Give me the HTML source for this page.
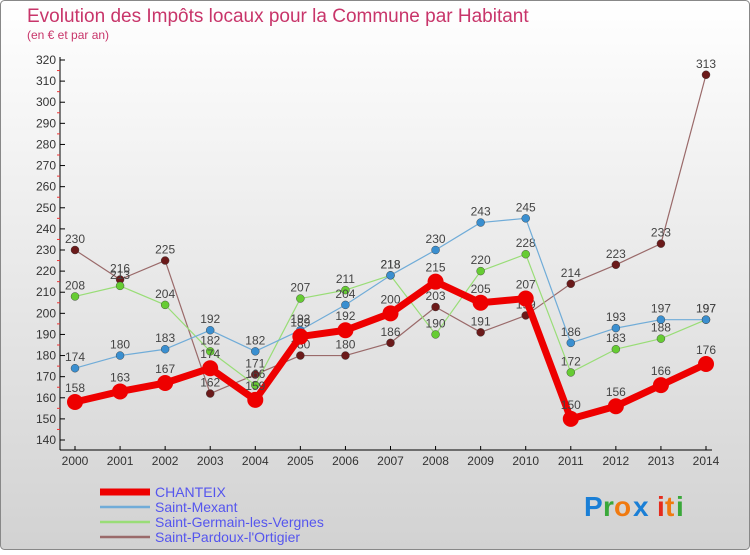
<!DOCTYPE html>
<html><head><meta charset="utf-8"><style>
body{margin:0;width:750px;height:550px;overflow:hidden;font-family:"Liberation Sans",sans-serif}
svg text{font-family:"Liberation Sans",sans-serif}
</style></head><body>
<svg id="c" width="750" height="550" xmlns="http://www.w3.org/2000/svg">
<defs><linearGradient id="bg" x1="0" y1="0" x2="0" y2="1"><stop offset="0" stop-color="#ffffff"/><stop offset="1" stop-color="#d2d2d2"/></linearGradient></defs>
<rect x="0.5" y="0.5" width="749" height="549" rx="4" fill="url(#bg)" stroke="#888"/>
<text x="27" y="22" font-size="19" fill="#c8356a">Evolution des Impôts locaux pour la Commune par Habitant</text>
<text x="27" y="39" font-size="12" fill="#c8356a">(en € et par an)</text>
<g id="axes"></g><g id="series"></g>
<g id="legend"></g>
<g font-size="28" font-weight="bold">
<text x="584" y="516" fill="#1a7fd6">P</text><text x="603" y="516" fill="#3aa83a">r</text><text x="614" y="516" fill="#f07a10">o</text><text x="633" y="516" fill="#1a7fd6">x</text><text x="657" y="516" fill="#e52b1c">i</text><text x="665" y="516" fill="#f07a10">t</text><text x="676" y="516" fill="#3aa83a">i</text></g>
</svg>
<script>
const years=[2000,2001,2002,2003,2004,2005,2006,2007,2008,2009,2010,2011,2012,2013,2014];
const chanteix=[158,163,167,174,159,189,192,200,215,205,207,150,156,166,176];
const mexant=[174,180,183,192,182,192,204,218,230,243,245,186,193,197,197];
const germain=[208,213,204,182,166,207,211,218,190,220,228,172,183,188,197];
const pardoux=[230,216,225,162,171,180,180,186,203,191,199,214,223,233,313];
const yTicks=[140,150,160,170,180,190,200,210,220,230,240,250,260,270,280,290,300,310,320];
const names=["CHANTEIX","Saint-Mexant","Saint-Germain-les-Vergnes","Saint-Pardoux-l'Ortigier"];
const NS="http://www.w3.org/2000/svg";
const X=i=>75+i*(706-75)/(years.length-1);
const Y=v=>440-(v-140)*(380/180);
function mk(t,a,p){const e=document.createElementNS(NS,t);for(const k in a)e.setAttribute(k,a[k]);p.appendChild(e);return e;}
const ax=document.getElementById('axes');
const yl=mk('line',{x1:60,y1:57,x2:60,y2:450,stroke:'#000'},ax);


const xl=mk('line',{x1:60,y1:450,x2:712,y2:450,stroke:'#000'},ax);


yTicks.forEach((v,k)=>{
 mk('line',{x1:60,y1:Y(v),x2:65,y2:Y(v),stroke:'#000'},ax);
 if(k<yTicks.length-1) mk('line',{x1:57,y1:Y(v+5),x2:60,y2:Y(v+5),stroke:'#e33'},ax);
 const t=mk('text',{x:56,y:Y(v)+4,'font-size':12,'text-anchor':'end',fill:'#333'},ax);t.textContent=v;
 
 
});
years.forEach((y,i)=>{
 mk('line',{x1:X(i),y1:446,x2:X(i),y2:450,stroke:'#000'},ax);
 const t=mk('text',{x:X(i),y:465,'font-size':12,'text-anchor':'middle',fill:'#333'},ax);t.textContent=y;
 
 
});
const sg=document.getElementById('series');
const defs=[[pardoux,'#6b1a1a','#9a6a6a',1.2,4,'series-saint-pardoux'],[germain,'#66cc33','#99dd77',1.2,4,'series-saint-germain'],[mexant,'#3a8fd0','#70acd8',1.2,4,'series-saint-mexant'],[chanteix,'#ee0000','#ee0000',7,8,'series-chanteix']];
defs.forEach(([d,dc,lc,w,r,n])=>{
 const g=mk('g',{},sg);
 
 
 mk('polyline',{points:d.map((v,i)=>X(i)+','+Y(v)).join(' '),fill:'none',stroke:lc,'stroke-width':w,'stroke-linejoin':'round'},g);
 d.forEach((v,i)=>{
  const c=mk('circle',{cx:X(i),cy:Y(v),r:r,fill:dc,stroke:w>2?'none':'#333','stroke-width':0.4},g);
  
  
  const t=mk('text',{x:X(i),y:Y(v)-(w>2?10:7),'font-size':12,'text-anchor':'middle',fill:'#444'},g);t.textContent=v;
 });
});
const lg=document.getElementById('legend');
[['#ee0000',7],['#70acd8',2.5],['#99dd77',2.5],['#9a6a6a',2.5]].forEach(([c,w],i)=>{
 const yy=492+i*15;
 mk('line',{x1:100,y1:yy,x2:150,y2:yy,stroke:c,'stroke-width':w},lg);
 const t=mk('text',{x:155,y:yy+5,'font-size':14,fill:'#5555ee'},lg);t.textContent=names[i];
 
 
});
</script>
</body></html>
